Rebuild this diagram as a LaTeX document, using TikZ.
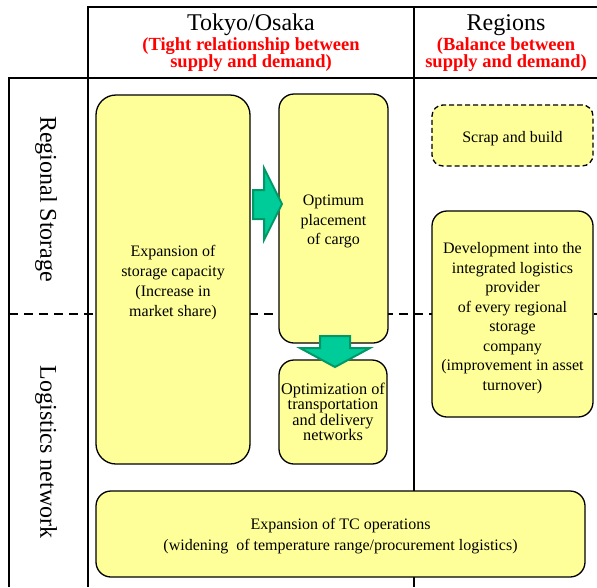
\documentclass[tikz,border=0pt]{standalone}
\usepackage{fontspec}
\setmainfont{Liberation Serif}
\definecolor{boxfill}{HTML}{FFFF99}
\definecolor{arrfill}{HTML}{00CC99}
\definecolor{arrdraw}{HTML}{009966}
\begin{document}
\begin{tikzpicture}[x=1pt,y=-1pt,
  grid/.style={line width=1.4pt,black},
  ybox/.style={draw=black,line width=1.3pt,fill=boxfill,rounded corners=15pt,inner sep=0pt},
  boxtext/.style={inner sep=0pt,align=center,font=\fontsize{16}{19.5}\selectfont},
  head/.style={font=\fontsize{24}{26}\selectfont,inner sep=0pt},
  redhead/.style={font=\fontsize{18.5}{17}\selectfont\bfseries,text=red,align=center,inner sep=0pt},
  blockarrow/.style={fill=arrfill,draw=arrdraw,line width=2pt,line join=miter}
]
\useasboundingbox (0,0) rectangle (597,587);
% grid
\draw[grid] (597,7) -- (88,7) -- (88,587);
\draw[grid] (414,7) -- (414,587);
\draw[grid] (597,78) -- (9,78) -- (9,587);
\draw[grid,dash pattern=on 9pt off 6pt] (9,314) -- (597,314);
% headers
\node[head] (tokyo) at (251,25) {Tokyo/Osaka};
\node[redhead] (tokyosub) at (251,55) {(Tight relationship between\\supply and demand)};
\node[head] (regions) at (506,25) {Regions};
\node[redhead] (regionssub) at (506,55) {(Balance between\\supply and demand)};
\node[head,rotate=-90] (rs) at (46,199) {Regional Storage};
\node[head,rotate=-90] (ln) at (46,452) {Logistics network};
% boxes
\node[ybox,rounded corners=20pt,minimum width=154pt,minimum height=369pt] (expand) at (173,279.5) {};
\node[boxtext,font=\fontsize{16}{19.8}\selectfont] (expandtext) at ([yshift=-3pt]expand.center)
  {Expansion of\\storage capacity\\(Increase in\\market share)};
\node[ybox,minimum width=109pt,minimum height=249pt] (opt) at (333.5,218.5) {};
\node[boxtext] (opttext) at ([yshift=-3pt]opt.center) {Optimum\\placement\\of cargo};
\node[ybox,minimum width=108pt,minimum height=104pt] (optz) at (333,412) {};
\node[boxtext,font=\fontsize{16.3}{15.4}\selectfont] (optztext) at (optz.center)
  {Optimization of\\transportation\\and delivery\\networks};
\node[ybox,dashed,dash pattern=on 5pt off 3pt,rounded corners=11pt,minimum width=161pt,minimum height=61pt] (scrap) at (512.5,135.5) {};
\node[boxtext] (scraptext) at ([yshift=-3.5pt]scrap.center) {Scrap and build};
\node[ybox,minimum width=161pt,minimum height=206pt] (dev) at (512.5,314) {};
\node[boxtext] (devtext) at ([yshift=-4pt]dev.center)
  {Development into the\\integrated logistics\\provider\\of every regional\\storage\\company\\(improvement in asset\\turnover)};
\node[ybox,minimum width=489pt,minimum height=86pt] (tc) at (340.5,534) {};
\node[boxtext,font=\fontsize{16}{21}\selectfont] (tctext) at ([yshift=-2pt]tc.center)
  {Expansion of TC operations\\(widening\ \ of temperature range/procurement logistics)};
% block arrows
\draw[blockarrow] (253,190) -- (264,190) -- (264,168) -- (282,204) -- (264,240) -- (264,219) -- (253,219) -- cycle;
\draw[blockarrow] (320,336) -- (350,336) -- (350,348) -- (370,348) -- (335,367) -- (300,348) -- (320,348) -- cycle;
\end{tikzpicture}
\end{document}
